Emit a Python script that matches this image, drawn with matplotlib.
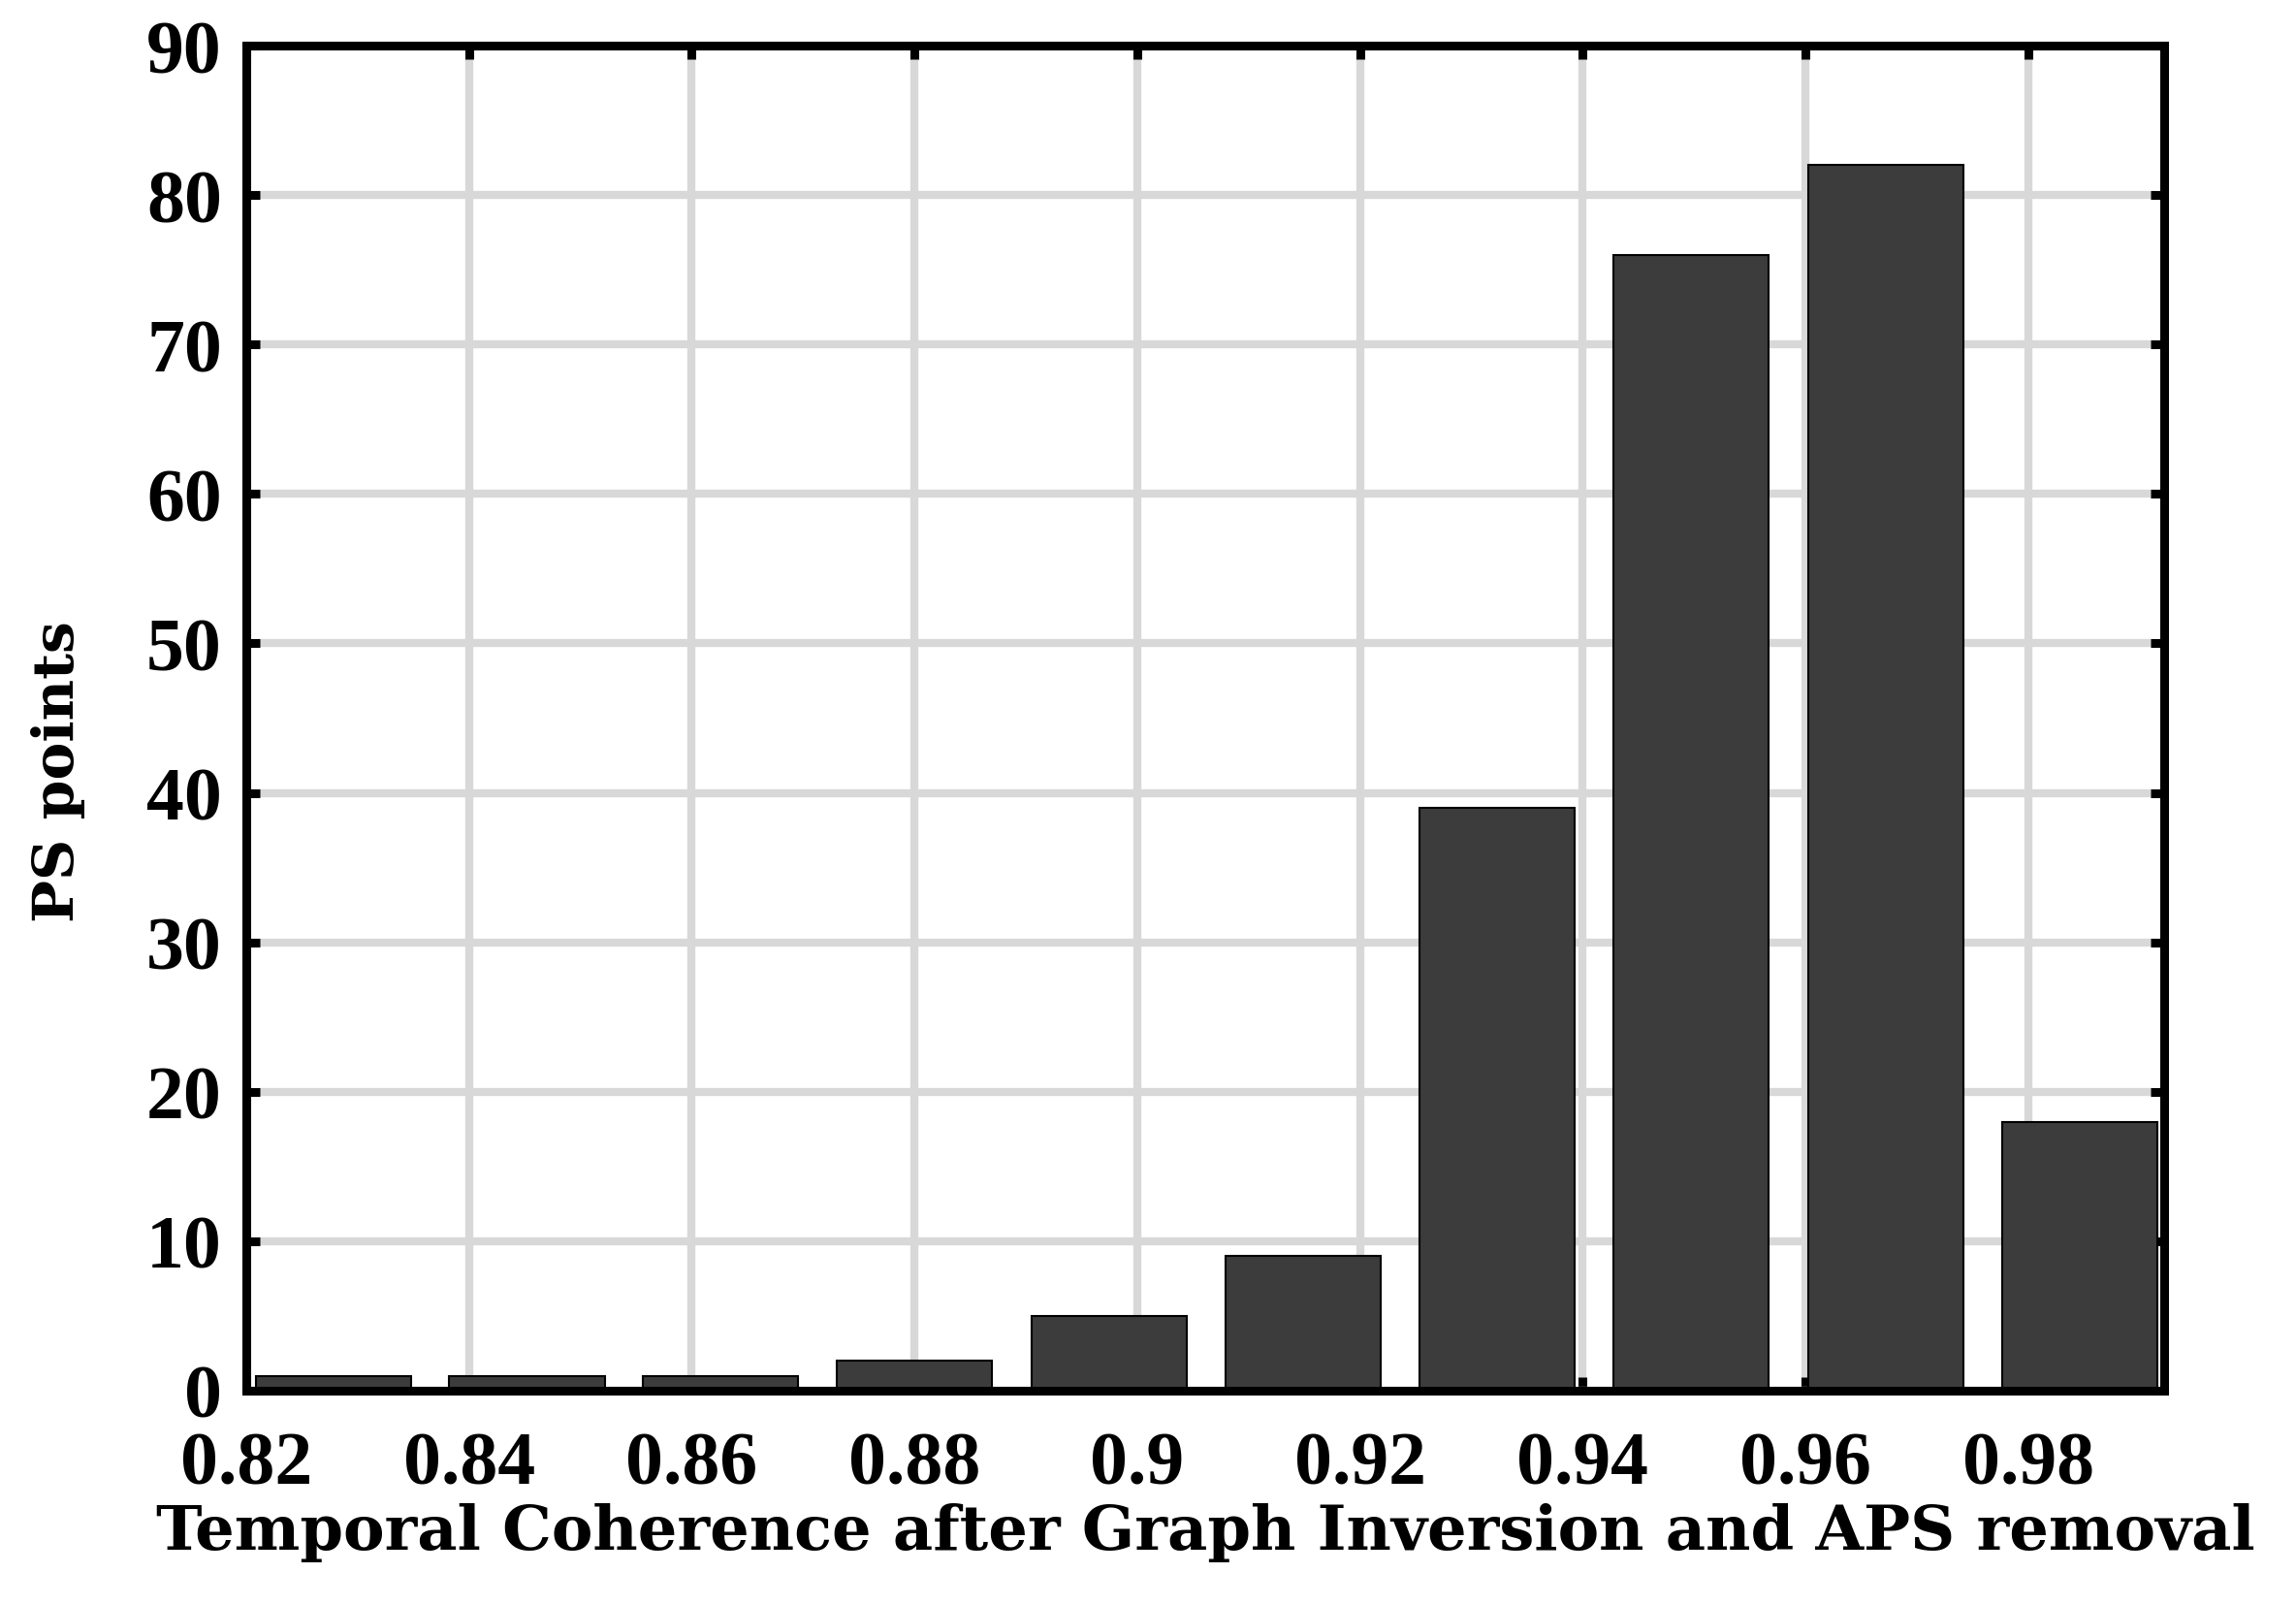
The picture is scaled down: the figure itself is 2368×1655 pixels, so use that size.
import matplotlib.pyplot as plt

# histogram bins (centres) and counts
bin_centers = [0.8278, 0.8452, 0.8626, 0.8800, 0.8975, 0.9149, 0.9323, 0.9497, 0.9672, 0.9846]
counts = [1, 1, 1, 2, 5, 9, 39, 76, 82, 18]
bin_width = 0.01742
xticks = [0.82, 0.84, 0.86, 0.88, 0.90, 0.92, 0.94, 0.96, 0.98]
xticklabels = ["0.82", "0.84", "0.86", "0.88", "0.9", "0.92", "0.94", "0.96", "0.98"]
yticks = list(range(0, 91, 10))

plt.rcParams["font.family"] = ["DejaVu Serif"]
plt.rcParams["font.weight"] = "bold"

fig = plt.figure(figsize=(23.68, 16.56), dpi=100)
ax = fig.add_axes([254 / 2368, 1 - 1435 / 1656, (2232 - 254) / 2368, (1435 - 48) / 1656])

ax.bar(bin_centers, counts, width=bin_width * 0.8, color="#3c3c3c",
       edgecolor="black", linewidth=1.5, zorder=2)

ax.set_xlim(0.82, 0.9922)
ax.set_ylim(0, 90)
ax.set_xticks(xticks)
ax.set_xticklabels(xticklabels)
ax.set_yticks(yticks)
ax.set_axisbelow(True)
ax.grid(True, color="#d8d8d8", linewidth=6, zorder=0)

for s in ax.spines.values():
    s.set_linewidth(6.5)
ax.tick_params(direction="in", length=10, width=6.5, top=True, right=True,
               labelsize=56)
ax.tick_params(axis="x", pad=30)
ax.tick_params(axis="y", pad=18)
for lab in ax.get_xticklabels() + ax.get_yticklabels():
    lab.set_fontweight("bold")
    lab.set_family("Liberation Serif")

ax.set_xlabel("Temporal Coherence after Graph Inversion and APS removal",
              fontsize=46, fontweight="bold", labelpad=2)
ax.set_ylabel("PS points", fontsize=42, fontweight="bold")
ax.yaxis.set_label_coords(-0.084, 0.461)

plt.savefig("out.png", dpi=100)
print("Saved out.png")
